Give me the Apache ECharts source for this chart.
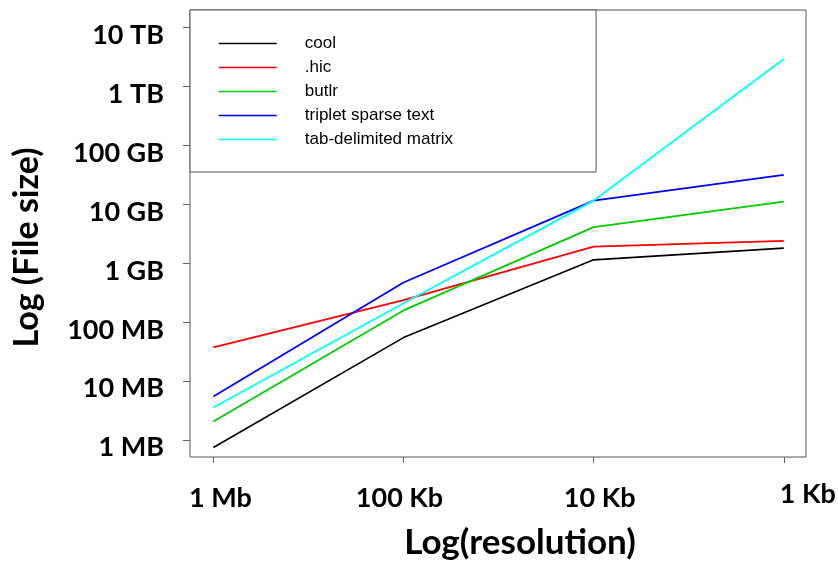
<!DOCTYPE html>
<html>
<head>
<meta charset="utf-8">
<script src="https://cdn.jsdelivr.net/npm/echarts@6/dist/echarts.min.js"></script>
<style>
  html, body { margin: 0; padding: 0; background: #fff; }
  #chart { width: 838px; height: 565px; }
</style>
</head>
<body>
<div id="chart"></div>
<script>
// resolution in bp, x axis (log, reversed)
var resolution = [1000000, 100000, 10000, 1000];
var xTickLabels = ['1 Mb', '100 Kb', '10 Kb', '1 Kb'];

// file size in MB, y axis (log)
var yTicks = [1, 10, 100, 1000, 10000, 100000, 1000000, 10000000];
var yTickLabels = ['1 MB', '10 MB', '100 MB', '1 GB', '10 GB', '100 GB', '1 TB', '10 TB'];

var seriesNames = ['cool', '.hic', 'butlr', 'triplet sparse text', 'tab-delimited matrix'];
var cool = [0.74, 54, 1124, 1775];
var hic = [36.7, 233, 1890, 2360];
var butlr = [2.04, 156, 4030, 10940];
var triplet = [5.42, 464, 11370, 31000];
var tabDelim = [3.53, 207, 11370, 2870000];

var colors = ['#000000', '#ff0000', '#00cd00', '#0000ff', '#00ffff'];

var chart = echarts.init(document.getElementById('chart'));

function pairs(vals) {
    return resolution.map(function (r, i) { return [r, vals[i]]; });
}

var boldFont = 'Lato';

function boldStyle(extra) {
    var s = { fontFamily: boldFont, fontWeight: 'bold', fontSize: 27, color: '#000' };
    for (var k in extra) s[k] = extra[k];
    return s;
}

// per label nudges (the labels are not quite centred in the original)
var xRich = {
    l0: boldStyle({ padding: [4, 0, 0, 14] }),
    l1: boldStyle({ padding: [4, 8, 0, 0] }),
    l2: boldStyle({ padding: [4, 0, 0, 12] }),
    l3: boldStyle({ padding: [0, 0, 0, 48] })
};

var allVals = [cool, hic, butlr, triplet, tabDelim];
var series = seriesNames.map(function (name, i) {
    return {
        name: name,
        type: 'line',
        data: pairs(allVals[i]),
        symbol: 'none',
        lineStyle: { width: i === 0 ? 1.6 : 1.8 }
    };
});

var option = {
    animation: false,
    color: colors,
    grid: {
        left: 190,
        right: 32,
        top: 10,
        bottom: 108,
        outerBoundsMode: 'none',
        containLabel: false,
        show: true,
        borderColor: '#555',
        borderWidth: 1
    },
    legend: {
        orient: 'vertical',
        left: 190,
        top: 10,
        data: seriesNames,
        itemWidth: 58,
        itemHeight: 14,
        itemGap: 7,
        padding: [25, 143, 24, 28],
        borderColor: '#555',
        borderWidth: 1,
        backgroundColor: '#fff',
        itemStyle: { opacity: 0 },
        lineStyle: { width: 1.5 },
        textStyle: {
            fontFamily: 'Liberation Sans',
            fontSize: 17,
            lineHeight: 14,
            color: '#000',
            padding: [0, 0, 0, 23]
        }
    },
    xAxis: {
        type: 'log',
        inverse: true,
        min: 764,
        max: 1327000,
        name: 'Log(resolution)',
        nameLocation: 'middle',
        nameGap: 68,
        nameTextStyle: {
            fontFamily: boldFont,
            fontWeight: 'bold',
            fontSize: 35,
            color: '#000',
            padding: [0, 0, 0, 44]
        },
        axisLine: { show: false },
        splitLine: { show: false },
        axisTick: {
            show: true,
            length: 6,
            lineStyle: { color: '#666' },
            customValues: resolution
        },
        axisLabel: {
            margin: 24,
            customValues: resolution,
            formatter: function (v) {
                var i = 6 - Math.round(Math.log10(v));
                return '{l' + i + '|' + xTickLabels[i] + '}';
            },
            rich: xRich
        }
    },
    yAxis: {
        type: 'log',
        min: 0.51,
        max: 19400000,
        name: 'Log (File size)',
        nameLocation: 'middle',
        nameGap: 146,
        nameTextStyle: {
            fontFamily: boldFont,
            fontWeight: 'bold',
            fontSize: 34,
            color: '#000',
            padding: [0, 28, 0, 0]
        },
        axisLine: { show: false },
        splitLine: { show: false },
        axisTick: {
            show: true,
            length: 7,
            lineStyle: { color: '#666' },
            customValues: yTicks
        },
        axisLabel: {
            margin: 26,
            customValues: yTicks,
            formatter: function (v) {
                return '{a|' + yTickLabels[Math.round(Math.log10(v))] + '}';
            },
            rich: {
                a: boldStyle({ padding: [16, 0, 0, 0] })
            }
        }
    },
    series: series
};

chart.setOption(option);
</script>
</body>
</html>
